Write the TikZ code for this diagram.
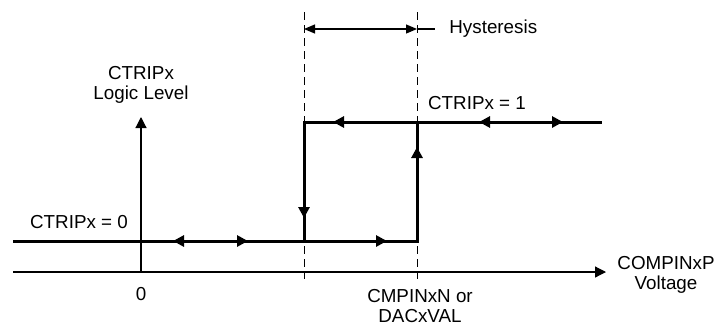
\documentclass[tikz,border=0pt]{standalone}
\usepackage{fontspec}
\setmainfont{Liberation Sans}
\usetikzlibrary{arrows.meta,calc}
\tikzset{
  axis-line/.style={line width=0.6pt,-{Triangle[length=5.5pt,width=5.5pt]}},
  level-line/.style={line width=1.5pt},
  guide-line/.style={line width=0.5pt,dash pattern=on 4pt off 2.5pt},
  span-line/.style={line width=0.6pt,{Triangle[length=5.5pt,width=4.5pt]}-{Triangle[length=5.5pt,width=4.5pt]}},
  dir-tip/.style={line width=1.5pt,-{Triangle[length=5.5pt,width=5.5pt]}},
  plot-label/.style={align=center,inner sep=0pt,font=\fontsize{9.4}{10}\selectfont},
}

\begin{document}
\begin{tikzpicture}[x=0.5pt,y=-0.5pt]
  \useasboundingbox (0,0) rectangle (715,322);
  % axes
  \coordinate (x0) at (13,272);
  \coordinate (x1) at (606,272);
  \coordinate (org) at (141,272);
  \coordinate (y1) at (141,117);
  \draw[axis-line] (x0) -- (x1);
  \draw[axis-line] (org) -- (y1);
  % thresholds
  \coordinate (lo-top) at (304,12);
  \coordinate (lo-bot) at (304,279);
  \coordinate (hi-top) at (417,12);
  \coordinate (hi-bot) at (417,279);
  \draw[guide-line] (lo-top) -- (lo-bot);
  \draw[guide-line] (hi-top) -- (hi-bot);
  % hysteresis span
  \coordinate (hys-l) at (304,29);
  \coordinate (hys-r) at (417,29);
  \coordinate (hys-e) at (435,29);
  \draw[span-line] (hys-l) -- (hys-r);
  \draw[line width=0.6pt] (hys-r) -- (hys-e);
  \node[plot-label,anchor=west] (hys) at (449,29) {Hysteresis};
  % output levels
  \coordinate (low-start) at (13,241);
  \coordinate (fall-bot) at (304,241);
  \coordinate (rise-bot) at (417,241);
  \coordinate (fall-top) at (304,122);
  \coordinate (rise-top) at (417,122);
  \coordinate (high-end) at (602,122);
  \draw[level-line] (low-start) -- (rise-bot) -- (rise-top) -- (high-end);
  \draw[level-line] (fall-bot) -- (fall-top) -- (rise-top);
  % direction marks
  \draw[dir-tip] (175,241) -- (173,241);
  \draw[dir-tip] (246,241) -- (248,241);
  \draw[dir-tip] (385,241) -- (387,241);
  \draw[dir-tip] (304,216) -- (304,218);
  \draw[dir-tip] (417,149) -- (417,147);
  \draw[dir-tip] (335,122) -- (333,122);
  \draw[dir-tip] (481,122) -- (479,122);
  \draw[dir-tip] (561,122) -- (563,122);
  % labels
  \node[plot-label] (ylab) at (141,85) {CTRIPx\\Logic Level};
  \node[plot-label] (low-lab) at (79,222) {CTRIPx = 0};
  \node[plot-label] (high-lab) at (477,103) {CTRIPx = 1};
  \node[plot-label] (zero) at (141,294) {0};
  \node[plot-label] (thr-lab) at (420,306) {CMPINxN or\\DACxVAL};
  \node[plot-label] (xlab) at (666,275) {COMPINxP\\Voltage};
\end{tikzpicture}
\end{document}
